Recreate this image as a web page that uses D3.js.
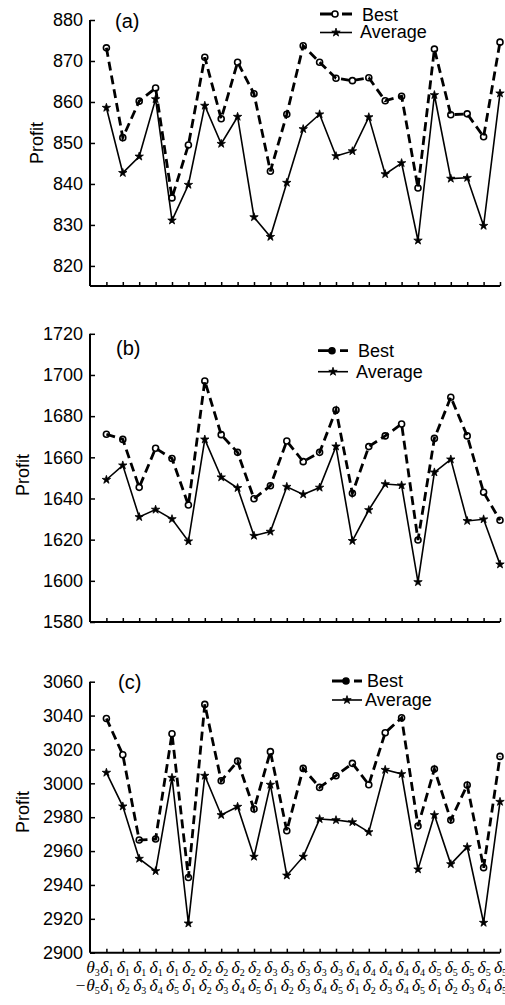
<!DOCTYPE html>
<html><head><meta charset="utf-8">
<script src="https://cdn.jsdelivr.net/npm/d3@7"></script>
<style>body{margin:0;background:#fff}svg{display:block}</style>
</head><body>
<svg id="c" width="505" height="1005"></svg>
<script>
// ---- data ----
const xIndex = d3.range(1, 26);
const labelsTop = ["θ3","δ1","δ1","δ1","δ1","δ1","δ2","δ2","δ2","δ2","δ2","δ3","δ3","δ3","δ3","δ3","δ4","δ4","δ4","δ4","δ4","δ5","δ5","δ5","δ5","δ5"];
const labelsBottom = ["−θ5","δ1","δ2","δ3","δ4","δ5","δ1","δ2","δ3","δ4","δ5","δ1","δ2","δ3","δ4","δ5","δ1","δ2","δ3","δ4","δ5","δ1","δ2","δ3","δ4","δ5"];

const bestA = [873.2, 851.3, 860.2, 863.4, 836.6, 849.5, 870.9, 855.9, 869.7, 862.0, 843.1, 857.0, 873.7, 869.7, 865.8, 865.2, 865.9, 860.3, 861.4, 839.0, 872.9, 856.9, 857.1, 851.5, 874.6];
const avgA  = [858.6, 842.7, 846.7, 860.7, 831.1, 839.8, 859.1, 849.8, 856.4, 831.9, 827.1, 840.3, 853.4, 857.0, 846.8, 848.0, 856.3, 842.4, 845.1, 826.2, 861.7, 841.3, 841.5, 829.8, 862.1];
const bestB = [1671.2, 1668.7, 1645.4, 1664.4, 1659.4, 1636.8, 1697.1, 1671.0, 1662.4, 1639.9, 1646.2, 1667.9, 1657.9, 1662.4, 1683.0, 1642.5, 1665.2, 1670.4, 1676.2, 1619.8, 1669.2, 1689.2, 1670.4, 1643.0, 1629.4];
const avgB  = [1649.1, 1656.1, 1631.0, 1634.6, 1630.0, 1619.2, 1668.7, 1650.3, 1645.1, 1621.9, 1623.9, 1645.7, 1642.0, 1645.3, 1665.3, 1619.4, 1634.4, 1647.0, 1646.4, 1599.4, 1652.7, 1659.0, 1629.1, 1629.9, 1608.0];
const bestC = [3038.3, 3016.9, 2966.5, 2967.1, 3029.3, 2944.4, 3046.6, 3001.5, 3013.1, 2984.8, 3018.7, 2972.0, 3008.8, 2997.6, 3004.5, 3011.8, 2999.2, 3029.9, 3038.7, 2974.8, 3008.4, 2978.3, 2999.0, 2950.2, 3015.9];
const avgC  = [3006.3, 2986.4, 2955.5, 2948.2, 3003.3, 2917.3, 3004.5, 2981.3, 2986.2, 2956.7, 2999.2, 2945.6, 2956.7, 2978.9, 2978.3, 2977.1, 2971.2, 3008.0, 3005.5, 2949.2, 2981.3, 2952.3, 2962.4, 2917.7, 2989.1];

const ticksA = [820, 830, 840, 850, 860, 870, 880];
const ticksB = [1580, 1600, 1620, 1640, 1660, 1680, 1700, 1720];
const ticksC = [2900, 2920, 2940, 2960, 2980, 3000, 3020, 3040, 3060];
const seriesNames = ["Best", "Average"];

// ---- layout ----
const svg = d3.select("#c");
const x = d3.scaleLinear().domain([0, 25]).range([90, 500]);
const sans = "Liberation Sans, Arial, sans-serif";

const panels = [
  {tag:"(a)", best:bestA, avg:avgA, ticks:ticksA, dom:[815.1, 880], rng:[286, 20],
   profitX:43, profitY:143, tagX:115, tagY:28,
   leg:{x1:320, x2:352, yB:14, yA:32.5, tx:360, tyB:21, tyA:38}},
  {tag:"(b)", best:bestB, avg:avgB, ticks:ticksB, dom:[1580, 1720], rng:[622, 333.8],
   profitX:29, profitY:475, tagX:116, tagY:355,
   leg:{x1:318, x2:348, yB:350.7, yA:371.7, tx:356, tyB:357, tyA:378}},
  {tag:"(c)", best:bestC, avg:avgC, ticks:ticksC, dom:[2900, 3060], rng:[952.7, 681.7],
   profitX:29, profitY:812, tagX:118, tagY:689,
   leg:{x1:332, x2:362, yB:681, yA:700, tx:365, tyB:687, tyA:706}}
];

const bestStyle = {w:2.8, dash:"9,5"};
const avgSym = d3.symbol(d3.symbolStar, 22);

panels.forEach((p, pi) => {
  const y = d3.scaleLinear().domain(p.dom).range(p.rng);
  const g = svg.append("g");

  // y axis
  const yAxis = d3.axisLeft(y).tickValues(p.ticks).tickSize(-5).tickPadding(7).tickFormat(d3.format("d"));
  const ya = g.append("g").attr("transform", `translate(${x(0)},0)`).call(yAxis);
  ya.select(".domain").attr("d", `M0,${y(p.ticks[p.ticks.length-1])}V${y(p.dom[0])}`)
    .attr("stroke", "#000").attr("stroke-width", 2);
  ya.selectAll(".tick line").attr("stroke", "#000").attr("stroke-width", 1.5);
  ya.selectAll(".tick text").attr("font-family", sans).attr("font-size", 18).attr("fill", "#000");

  // x axis
  const xAxis = d3.axisBottom(x).tickValues(xIndex).tickSize(-4).tickFormat("");
  const xa = g.append("g").attr("transform", `translate(0,${y(p.dom[0])})`).call(xAxis);
  xa.select(".domain").attr("d", `M${x(0)},0H${x(25)}`).attr("stroke", "#000").attr("stroke-width", 2);
  xa.selectAll(".tick line").attr("stroke", "#000").attr("stroke-width", 1.5);

  // Average line
  const line = d3.line().x((d, i) => x(xIndex[i])).y(d => y(d));
  g.append("path").datum(p.avg).attr("d", line).attr("fill", "none")
    .attr("stroke", "#000").attr("stroke-width", 1.6);
  g.selectAll(".avgpt").data(p.avg).join("path").attr("class", "avgpt")
    .attr("transform", (d, i) => `translate(${x(xIndex[i])},${y(d)})`)
    .attr("d", avgSym).attr("fill", "#000").attr("stroke", "#000").attr("stroke-width", 0.8);

  // Best markers then dashed line over them
  g.selectAll(".bestpt").data(p.best).join("circle").attr("class", "bestpt")
    .attr("cx", (d, i) => x(xIndex[i])).attr("cy", d => y(d)).attr("r", 3)
    .attr("fill", "#fff").attr("stroke", "#000").attr("stroke-width", 1.6);
  g.append("path").datum(p.best).attr("d", line).attr("fill", "none")
    .attr("stroke", "#000").attr("stroke-width", bestStyle.w).attr("stroke-dasharray", bestStyle.dash);

  // Profit label
  g.append("text").attr("transform", `translate(${p.profitX},${p.profitY}) rotate(-90)`)
    .attr("text-anchor", "middle").attr("font-family", sans).attr("font-size", 18).text("Profit");

  // panel tag
  g.append("text").attr("x", p.tagX).attr("y", p.tagY).attr("font-family", sans)
    .attr("font-size", 20).text(p.tag);

  // legend
  const L = p.leg;
  const mid = (L.x1 + L.x2) / 2;
  g.append("line").attr("x1", L.x1).attr("x2", L.x2).attr("y1", L.yB).attr("y2", L.yB)
    .attr("stroke", "#000").attr("stroke-width", bestStyle.w).attr("stroke-dasharray", "14,8,10");
  g.append("circle").attr("cx", mid - 1).attr("cy", L.yB).attr("r", 3)
    .attr("fill", pi === 0 ? "#fff" : "#000").attr("stroke", "#000").attr("stroke-width", 1.6);
  g.append("line").attr("x1", L.x1).attr("x2", L.x2).attr("y1", L.yA).attr("y2", L.yA)
    .attr("stroke", "#000").attr("stroke-width", 1.6);
  g.append("path").attr("transform", `translate(${mid},${L.yA})`)
    .attr("d", avgSym).attr("fill", "#000").attr("stroke", "#000").attr("stroke-width", 0.8);
  g.append("text").attr("x", L.tx + 2).attr("y", L.tyB).attr("font-family", sans).attr("font-size", 18).text(seriesNames[0]);
  g.append("text").attr("x", L.tx).attr("y", L.tyA).attr("font-family", sans).attr("font-size", 18).text(seriesNames[1]);

  // x category labels (only on the last panel)
  if (pi === 2) {
    const rows = [{labels: labelsTop, y: 973}, {labels: labelsBottom, y: 991}];
    rows.forEach(r => {
      const t = g.selectAll(null).data(r.labels).join("text")
        .attr("x", (d, i) => i === 0 ? x(0.6) : x(i) + 0.5).attr("y", r.y)
        .attr("text-anchor", (d, i) => i === 0 ? "end" : "middle")
        .attr("font-family", "Liberation Serif, Times New Roman, serif")
        .attr("font-style", "italic").attr("font-size", 17.5);
      t.append("tspan").text(d => d.slice(0, -1));
      t.append("tspan").attr("font-size", 10).attr("font-style", "normal").attr("dy", 3).text(d => d.slice(-1));
    });
  }
});
</script>
</body></html>
